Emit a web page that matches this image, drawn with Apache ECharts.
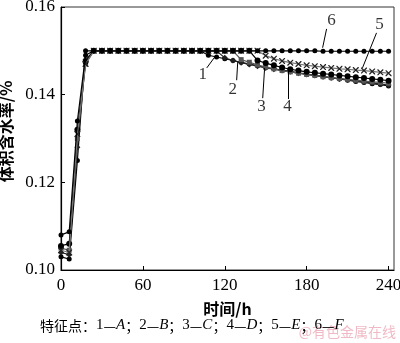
<!DOCTYPE html>
<html><head><meta charset="utf-8">
<script src="https://cdn.jsdelivr.net/npm/echarts@6/dist/echarts.min.js"></script>
<style>html,body{margin:0;padding:0;background:#fff}#c{width:400px;height:343px}</style>
</head><body><div id="c"></div>
<script>
// time (h)
const times = [0,6,12,18,24,30,36,42,48,54,60,66,72,78,84,90,96,102,108,114,120,126,132,138,144,150,156,162,168,174,180,186,192,198,204,210,216,222,228,234,240];
// Feature point A..F volumetric water content (%)
const serA = [0.1030,0.1025,0.1250,0.1500,0.1500,0.1500,0.1500,0.1500,0.1500,0.1500,0.1500,0.1500,0.1500,0.1500,0.1500,0.1500,0.1500,0.1500,
  0.1490,0.1486,0.1482,0.1478,0.1474,0.1470,0.1466,0.1462,0.1459,0.1456,0.1453,0.1450,0.1447,0.1444,0.1441,0.1438,0.1436,0.1433,0.1430,0.1428,0.1425,0.1423,0.1420];
const serB = [0.1040,0.1035,0.1280,0.1480,0.1500,0.1500,0.1500,0.1500,0.1500,0.1500,0.1500,0.1500,0.1500,0.1500,0.1500,0.1500,0.1500,0.1500,
  0.1500,0.1500,0.1484,0.1478,0.1473,0.1469,0.1465,0.1461,0.1458,0.1455,0.1452,0.1449,0.1446,0.1444,0.1441,0.1439,0.1436,0.1434,0.1431,0.1429,0.1427,0.1424,0.1422];
const serC = [0.1050,0.1045,0.1300,0.1470,0.1500,0.1500,0.1500,0.1500,0.1500,0.1500,0.1500,0.1500,0.1500,0.1500,0.1500,0.1500,0.1500,0.1500,
  0.1500,0.1500,0.1500,0.1500,0.1480,0.1474,0.1468,0.1463,0.1459,0.1455,0.1452,0.1449,0.1446,0.1444,0.1441,0.1439,0.1437,0.1435,0.1433,0.1431,0.1429,0.1428,0.1426];
const serD = [0.1055,0.1060,0.1320,0.1475,0.1500,0.1500,0.1500,0.1500,0.1500,0.1500,0.1500,0.1500,0.1500,0.1500,0.1500,0.1500,0.1500,0.1500,
  0.1500,0.1500,0.1500,0.1500,0.1500,0.1500,0.1478,0.1472,0.1467,0.1462,0.1458,0.1455,0.1452,0.1450,0.1448,0.1446,0.1444,0.1442,0.1440,0.1438,0.1436,0.1434,0.1432];
const serE = [0.1045,0.1040,0.1310,0.1470,0.1500,0.1500,0.1500,0.1500,0.1500,0.1500,0.1500,0.1500,0.1500,0.1500,0.1500,0.1500,0.1500,0.1500,
  0.1500,0.1500,0.1500,0.1500,0.1500,0.1500,0.1500,0.1489,0.1482,0.1477,0.1473,0.1470,0.1467,0.1465,0.1463,0.1461,0.1459,0.1458,0.1456,0.1455,0.1453,0.1451,0.1449];
const serF = [0.1080,0.1087,0.1340,0.1490,0.1500,0.1500,0.1500,0.1500,0.1500,0.1500,0.1500,0.1500,0.1500,0.1500,0.1500,0.1500,0.1500,0.1500,
  0.1500,0.1500,0.1500,0.1500,0.1500,0.1500,0.1500,0.1500,0.1500,0.1500,0.1500,0.1500,0.1500,0.1500,0.1499,0.1499,0.1499,0.1499,0.1499,0.1499,0.1499,0.1499,0.1499];
const seriesNames = ['1','2','3','4','5','6'];
const xTicks = [0,60,120,180,240];
const yTicks = [0.10,0.12,0.14,0.16];
// curve number labels: [text, labelT, labelV, fromT, fromV, toT, toV]
const curveLabels = [
  ['1',103.9,0.1445,106.8,0.1461,112.7,0.1486],
  ['2',125.8,0.1411,128.7,0.1433,129.5,0.1475],
  ['3',147.0,0.1374,147.8,0.1392,149.2,0.1461],
  ['4',166.0,0.1372,166.8,0.1390,166.8,0.1456],
  ['5',233.4,0.1559,231.2,0.1541,220.9,0.1461],
  ['6',198.2,0.1570,194.6,0.1550,191.7,0.1507]
];

const serif = 'Liberation Serif';
const cjk = 'Noto Sans CJK SC';
const crossPath = 'path://M0,0L1.5,0L10,8.5L10,10L8.5,10L0,1.5Z M8.5,0L10,0L10,1.5L1.5,10L0,10L0,8.5Z';
const styles = [
  {c:'#000', sym:'circle', size:5},
  {c:'#222', sym:'diamond', size:6},
  {c:'#555', sym:'square', size:5},
  {c:'#000', sym:'circle', size:6},
  {c:'#777', sym:crossPath, size:6, mc:'#222'},
  {c:'#000', sym:'circle', size:5}
];
const all = [serA,serB,serC,serD,serE,serF];
const series = all.map((arr,i)=>({
  name: seriesNames[i], type:'line',
  data: times.map((t,k)=>[t,arr[k]]),
  symbol: styles[i].sym, symbolSize: styles[i].size, showSymbol:true,
  lineStyle:{color:styles[i].c, width:1.2},
  itemStyle:{color:styles[i].mc||styles[i].c},
  z: 2+i, animation:false
}));
series.push({
  type:'line', data:[], animation:false, silent:true,
  markLine:{symbol:['none','none'], silent:true, animation:false,
    lineStyle:{color:'#000', width:1, type:'solid'}, label:{show:false},
    data: curveLabels.map(l=>[{coord:[l[3],l[4]]},{coord:[l[5],l[6]]}])}
});
series.push({
  type:'scatter', symbolSize:0, animation:false, silent:true,
  data: curveLabels.map(l=>({value:[l[1],l[2]], name:l[0]})),
  label:{show:true, position:'inside', formatter:p=>p.name, color:'#000', fontFamily:serif, fontSize:17}
});

const chart = echarts.init(document.getElementById('c'), null, {renderer:'canvas'});
chart.setOption({
  backgroundColor:'#fff',
  animation:false,
  grid:{left:61, top:7, right:6, bottom:73, show:true, borderColor:'#333', borderWidth:1, containLabel:false, outerBoundsMode:'none'},
  xAxis:{type:'value', min:0, max:244, interval:60,
    name:'时间/h', nameLocation:'middle', nameGap:31,
    nameTextStyle:{fontFamily:cjk, fontSize:16, color:'#000', fontWeight:'bold'},
    axisLine:{show:true, lineStyle:{color:'#000', width:1.2}},
    axisTick:{show:true, inside:true, length:4, lineStyle:{color:'#000'}},
    axisLabel:{fontFamily:serif, fontSize:17, color:'#000', margin:7, showMaxLabel:false,
      formatter:v=> xTicks.includes(v)? String(v):''},
    splitLine:{show:false}},
  yAxis:{type:'value', min:0.10, max:0.16, interval:0.02,
    name:'体积含水率/%', nameLocation:'middle', nameGap:42,
    nameTextStyle:{fontFamily:cjk, fontSize:16, color:'#000', fontWeight:'bold', padding:[0,0,0,14]},
    axisLine:{show:true, lineStyle:{color:'#000', width:1.2}},
    axisTick:{show:true, inside:true, length:4, lineStyle:{color:'#000'}},
    axisLabel:{fontFamily:serif, fontSize:17, color:'#000', margin:6,
      formatter:v=>{const m=yTicks.find(t=>Math.abs(t-v)<1e-9); return m!==undefined? m.toFixed(2):'';}},
    splitLine:{show:false}},
  title:{left:40, top:318, padding:0,
    text:'{c|特征点：}{n|1}{c|—}{i|A}{c|；}{n|2}{c|—}{i|B}{c|；}{n|3}{c|—}{i|C}{c|；}{n|4}{c|—}{i|D}{c|；}{n|5}{c|—}{i|E}{c|；}{n|6}{c|—}{i|F}',
    textStyle:{fontWeight:'normal', rich:{
      c:{fontFamily:cjk, fontSize:14, color:'#000', fontWeight:'normal'},
      n:{fontFamily:serif, fontSize:15, color:'#000', fontWeight:'normal'},
      i:{fontFamily:serif, fontSize:15, color:'#000', fontStyle:'italic', fontWeight:'normal'}}}},
  graphic:[{type:'text', right:4, bottom:4, silent:true,
    style:{text:'@有色金属在线', fontFamily:cjk, fontSize:14, fill:'rgba(225,130,150,0.55)'}}],
  series: series
});
</script></body></html>
